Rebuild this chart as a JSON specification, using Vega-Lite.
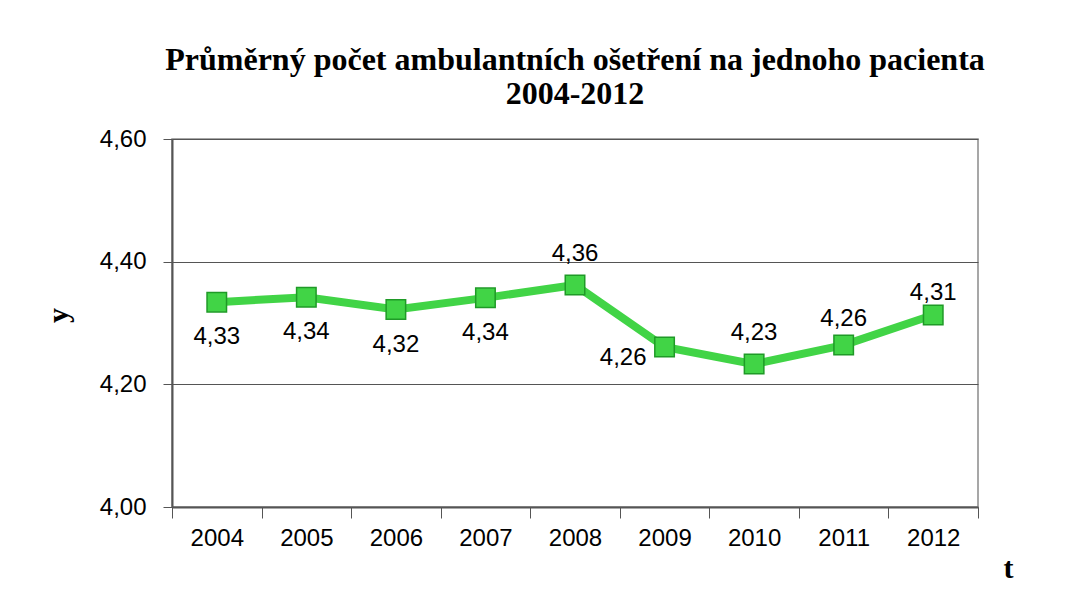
{
  "$schema": "https://vega.github.io/schema/vega-lite/v6.json",
  "autosize": "none",
  "width": 806,
  "height": 368,
  "padding": {"left": 172, "top": 139, "right": 96, "bottom": 100},
  "background": "white",
  "config": {
    "locale": {"number": {"decimal": ",", "thousands": " ", "grouping": [3], "currency": ["", " Kč"]}},
    "view": {"stroke": "#8a8a8a", "strokeWidth": 1.5},
    "font": "Liberation Sans"
  },
  "title": {
    "text": ["Průměrný počet ambulantních ošetření na jednoho pacienta", "2004-2012"],
    "font": "Liberation Serif",
    "fontWeight": "bold",
    "fontSize": 32,
    "lineHeight": 34,
    "color": "black",
    "anchor": "middle",
    "frame": "group",
    "offset": 16
  },
  "data": {
    "values": [
      {"year": "2004", "value": 4.334},
      {"year": "2005", "value": 4.342},
      {"year": "2006", "value": 4.322},
      {"year": "2007", "value": 4.341},
      {"year": "2008", "value": 4.362},
      {"year": "2009", "value": 4.261},
      {"year": "2010", "value": 4.233},
      {"year": "2011", "value": 4.264},
      {"year": "2012", "value": 4.313}
    ]
  },
  "encoding": {
    "x": {
      "field": "year",
      "type": "ordinal",
      "scale": {"paddingInner": 0, "paddingOuter": 0},
      "axis": {
        "title": "t",
        "titleFont": "Liberation Serif",
        "titleFontWeight": "bold",
        "titleFontSize": 30,
        "titleColor": "black",
        "titleX": 836,
        "titleY": 70,
        "titleAlign": "center",
        "titleBaseline": "alphabetic",
        "labelAngle": 0,
        "labelFont": "Liberation Sans",
        "labelFontSize": 24,
        "labelColor": "black",
        "labelPadding": 8,
        "tickBand": "extent",
        "tickSize": 11,
        "tickColor": "#555",
        "domainColor": "#555",
        "domainWidth": 2,
        "grid": false
      }
    },
    "y": {
      "field": "value",
      "type": "quantitative",
      "scale": {"domain": [4, 4.6], "nice": false, "zero": false},
      "axis": {
        "title": "y",
        "titleFont": "Liberation Serif",
        "titleFontWeight": "bold",
        "titleFontSize": 30,
        "titleColor": "black",
        "titleX": -114,
        "titleY": 176,
        "titleAlign": "center",
        "titleBaseline": "middle",
        "values": [4, 4.2, 4.4, 4.6],
        "format": ".2f",
        "labelFont": "Liberation Sans",
        "labelFontSize": 24,
        "labelColor": "black",
        "labelPadding": 17,
        "tickSize": 9,
        "tickColor": "#555",
        "domainColor": "#555",
        "domainWidth": 2,
        "grid": true,
        "gridColor": "#555",
        "gridWidth": 1
      }
    }
  },
  "layer": [
    {"mark": {"type": "line", "color": "#41d446", "strokeWidth": 8}},
    {"mark": {"type": "point", "shape": "square", "filled": true, "size": 380, "fill": "#41d446", "stroke": "#1f9a27", "strokeWidth": 1.5, "opacity": 1}},
    {
      "transform": [{"filter": "datum.year <= '2007'"}],
      "mark": {"type": "text", "fontSize": 24, "color": "black", "baseline": "middle", "dy": 35},
      "encoding": {"text": {"field": "value", "type": "quantitative", "format": ".2f"}}
    },
    {
      "transform": [{"filter": "datum.year == '2008' || datum.year == '2010'"}],
      "mark": {"type": "text", "fontSize": 24, "color": "black", "baseline": "middle", "dy": -31},
      "encoding": {"text": {"field": "value", "type": "quantitative", "format": ".2f"}}
    },
    {
      "transform": [{"filter": "datum.year == '2011'"}],
      "mark": {"type": "text", "fontSize": 24, "color": "black", "baseline": "middle", "dy": -26},
      "encoding": {"text": {"field": "value", "type": "quantitative", "format": ".2f"}}
    },
    {
      "transform": [{"filter": "datum.year == '2012'"}],
      "mark": {"type": "text", "fontSize": 24, "color": "black", "baseline": "middle", "dy": -22},
      "encoding": {"text": {"field": "value", "type": "quantitative", "format": ".2f"}}
    },
    {
      "transform": [{"filter": "datum.year == '2009'"}],
      "mark": {"type": "text", "fontSize": 24, "color": "black", "baseline": "middle", "align": "right", "dx": -18, "dy": 11},
      "encoding": {"text": {"field": "value", "type": "quantitative", "format": ".2f"}}
    }
  ]
}
